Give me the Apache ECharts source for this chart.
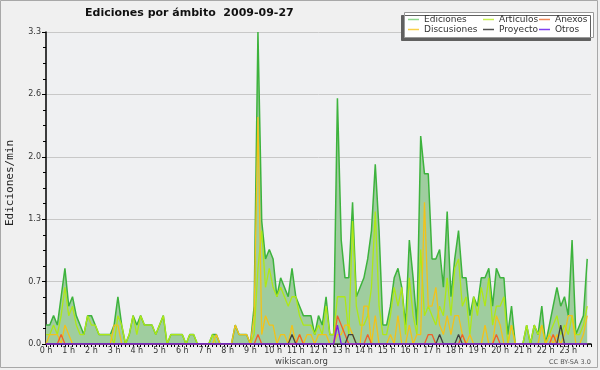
<!DOCTYPE html>
<html>
<head>
<meta charset="utf-8">
<script src="https://cdn.jsdelivr.net/npm/echarts@6/dist/echarts.min.js"></script>
<style>html,body{margin:0;padding:0;background:#f0f0f0;}#c{width:600px;height:370px;}</style>
</head>
<body>
<div id="c"></div>
<script>
// ---- data (10-minute bins, edits per minute) ----
var hourLabels = ['0 h','1 h','2 h','3 h','4 h','5 h','6 h','7 h','8 h','9 h','10 h','11 h','12 h','13 h','14 h','15 h','16 h','17 h','18 h','19 h','20 h','21 h','22 h','23 h'];

var ediciones = [
0.2,0.2,0.3,0.2,0.5,0.8,0.4,0.5,0.3,0.2,
0.1,0.3,0.3,0.2,0.1,0.1,0.1,0.1,0.2,0.5,
0.2,0,0.1,0.3,0.2,0.3,0.2,0.2,0.2,0.1,
0.2,0.3,0,0.1,0.1,0.1,0.1,0,0.1,0.1,
0,0,0,0,0.1,0.1,0,0,0,0,
0.2,0.1,0.1,0.1,0,0.4,3.3,1.3,0.9,1.0,
0.9,0.5,0.7,0.6,0.5,0.8,0.5,0.4,0.3,0.3,
0.3,0.1,0.3,0.2,0.5,0.1,0.1,2.6,1.1,0.7,
0.7,1.5,0.5,0.6,0.7,0.9,1.2,1.9,1.2,0.2,
0.2,0.4,0.7,0.8,0.6,0.2,1.1,0.7,0.2,2.2,
1.8,1.8,0.9,0.9,1.0,0.6,1.4,0.5,0.9,1.2,
0.7,0.7,0.3,0.5,0.4,0.7,0.7,0.8,0.4,0.8,
0.7,0.7,0.1,0.4,0,0,0,0.2,0,0.2,
0.1,0.4,0,0.2,0.4,0.6,0.4,0.5,0.3,1.1,
0.1,0.2,0.3,0.9];

var articulos = [
0.1,0.1,0.2,0.1,0.3,0.6,0.3,0.4,0.2,0.1,
0.1,0.3,0.2,0.2,0.1,0.1,0.1,0.1,0,0.3,
0.2,0,0.1,0.3,0.1,0.3,0.2,0.2,0.2,0.1,
0.2,0.3,0,0.1,0.1,0.1,0.1,0,0.1,0.1,
0,0,0,0,0.1,0,0,0,0,0,
0,0,0,0,0,0.1,0.8,1.2,0.6,0.8,
0.6,0.5,0.6,0.5,0.4,0.5,0.5,0.3,0.2,0.2,
0.2,0.1,0.2,0.1,0.4,0.1,0.1,0.5,0.5,0.5,
0.1,1.3,0.4,0.2,0.2,0.3,0.6,1.4,0.4,0.1,
0.1,0.3,0.6,0.4,0.6,0.1,0.7,0.3,0.1,1.0,
0.3,0.4,0.3,0.2,0.4,0.3,0.7,0.3,0.8,0.9,
0.4,0.5,0.1,0.5,0.3,0.6,0.4,0.7,0.2,0.4,
0.4,0.5,0,0.2,0,0,0,0.2,0,0.2,
0.1,0.2,0,0.1,0.2,0.3,0.1,0.2,0.1,0.3,
0.1,0.1,0.2,0.4];

var discusiones = [
0,0.1,0.1,0.1,0,0.2,0.1,0,0,0,
0,0,0,0,0,0,0,0,0.2,0.2,
0,0,0,0,0,0,0,0,0,0,
0,0,0,0,0,0,0,0,0,0,
0,0,0,0,0,0.1,0,0,0,0,
0.2,0.1,0.1,0.1,0,0.3,2.4,0.1,0.3,0.2,
0.2,0,0.1,0.1,0,0.2,0,0.1,0,0.1,
0.1,0,0.1,0.1,0.1,0,0,0.1,0.1,0.2,
0.2,0.1,0,0,0.4,0.4,0,0.3,0,0,
0,0.1,0,0.3,0,0,0.2,0,0.1,0.1,
1.5,0.4,0.4,0.6,0.2,0.1,0.3,0.1,0.3,0.3,
0.1,0,0.1,0,0,0,0.2,0,0,0.3,
0.2,0,0,0.2,0,0,0,0,0,0,
0,0.2,0,0.1,0,0.1,0,0.1,0.3,0.3,
0,0,0.1,0.3];

var anexos = [
0,0,0,0,0.1,0,0,0,0,0,
0,0,0,0,0,0,0,0,0,0,
0,0,0,0,0,0,0,0,0,0,
0,0,0,0,0,0,0,0,0,0,
0,0,0,0,0,0,0,0,0,0,
0,0,0,0,0,0,0.1,0,0,0,
0,0,0,0,0,0,0,0.1,0,0,
0,0,0,0,0,0,0,0.3,0.2,0.1,
0,0,0,0,0,0.1,0,0,0,0,
0,0,0,0,0,0,0,0,0,0,
0,0.1,0.1,0,0,0,0,0,0,0,
0.1,0,0,0,0,0,0,0,0,0.1,
0,0,0,0,0,0,0,0,0,0,
0,0,0,0,0.1,0,0,0,0,0,
0,0,0,0];

var proyecto = [
0,0,0,0,0,0,0,0,0,0,
0,0,0,0,0,0,0,0,0,0,
0,0,0,0,0,0,0,0,0,0,
0,0,0,0,0,0,0,0,0,0,
0,0,0,0,0,0,0,0,0,0,
0,0,0,0,0,0,0,0,0,0,
0,0,0,0,0,0.1,0,0,0,0,
0,0,0,0,0,0,0,0,0,0,
0.1,0.1,0,0,0,0,0,0,0,0,
0,0,0,0,0,0,0,0,0,0,
0,0,0,0,0.1,0,0,0,0,0.1,
0,0,0,0,0,0,0,0,0,0,
0,0,0,0,0,0,0,0,0,0,
0,0,0,0,0,0,0.2,0,0,0,
0,0,0,0];

var otros = [
0,0,0,0,0,0,0,0,0,0,
0,0,0,0,0,0,0,0,0,0,
0,0,0,0,0,0,0,0,0,0,
0,0,0,0,0,0,0,0,0,0,
0,0,0,0,0,0,0,0,0,0,
0,0,0,0,0,0,0,0,0,0,
0,0,0,0,0,0,0,0,0,0,
0,0,0,0,0,0,0,0.2,0,0,
0,0,0,0,0,0,0,0,0,0,
0,0,0,0,0,0,0,0,0,0,
0,0,0,0,0,0,0,0,0,0,
0,0,0,0,0,0,0,0,0,0,
0,0,0,0,0,0,0,0,0,0,
0,0,0,0,0,0,0,0,0,0,
0,0,0,0];

function pairs(arr){ return arr.map(function(v,i){ return [i, v]; }); }

var FONT = 'DejaVu Sans';
var chart = echarts.init(document.getElementById('c'), null, {renderer:'canvas'});

function leg(name, color, left, top){
  return {
    data:[{name:name, itemStyle:{color:color}}],
    left:left, top:top, padding:0, icon:'rect', itemWidth:11, itemHeight:1.5, itemGap:0,
    selectedMode:false, z:60,
    textStyle:{fontFamily:FONT, fontSize:9, color:'#333', padding:[0,0,0,0]}
  };
}
function line(name, data, color, z){
  return {type:'line', name:name, data:pairs(data), showSymbol:false, symbol:'none',
    lineStyle:{color:color, width:1.3}, itemStyle:{color:color}, z:z, silent:true};
}

var option = {
  animation:false,
  backgroundColor:'#f0f0f0',
  title:{text:'Ediciones por ámbito  2009-09-27', left:85, top:8, padding:0,
    textStyle:{fontFamily:FONT, fontSize:11, fontWeight:'bold', color:'#111'}},
  legend:[
    leg('Ediciones','#8fd88f',408,15),
    leg('Artículos','#c8f050',483,15),
    leg('Anexos','#f08858',539,15),
    leg('Discusiones','#f8d048',408,25),
    leg('Proyecto','#505050',483,25),
    leg('Otros','#8040f0',539,25)
  ],
  grid:{left:46, right:9, top:32, bottom:26, show:true, backgroundColor:'#eff0f2', borderWidth:0},
  xAxis:{type:'value', min:0, max:144, interval:6,
    axisLine:{show:true, lineStyle:{color:'#000', width:1.5}},
    axisTick:{show:true, length:3, lineStyle:{color:'#000'}},
    minorTick:{show:true, splitNumber:6, length:3, lineStyle:{color:'#000'}},
    splitLine:{show:false},
    axisLabel:{margin:3, fontFamily:FONT, fontSize:8, color:'#333',
      formatter:function(v){ var h=Math.round(v/6); return h<hourLabels.length ? hourLabels[h] : ''; }}
  },
  yAxis:{type:'value', min:0, max:3.3, interval:0.66,
    axisLine:{show:true, lineStyle:{color:'#000', width:1.5}},
    axisTick:{show:true, length:4, lineStyle:{color:'#000'}},
    minorTick:{show:true, splitNumber:4, length:3, lineStyle:{color:'#000'}},
    splitLine:{show:true, lineStyle:{color:'#c8c8c8', width:1}},
    axisLabel:{margin:5, fontFamily:FONT, fontSize:8, color:'#333',
      formatter:function(v){ return v.toFixed(1); }}
  },
  graphic:[
    {type:'rect', shape:{x:0.5,y:0.5,width:597,height:367}, style:{fill:null, stroke:'#a8a8a8', lineWidth:1}, z:-1, silent:true},
    {type:'rect', shape:{x:404.5,y:12.5,width:189,height:25}, style:{fill:'#fff', stroke:'#999', lineWidth:1,
      shadowColor:'#606060', shadowOffsetX:-3, shadowOffsetY:3, shadowBlur:0}, z:50, silent:true},
    {type:'text', x:10, y:183, rotation:Math.PI/2, style:{text:'Ediciones/min', font:'11px "DejaVu Sans Mono"', fill:'#222', align:'center', verticalAlign:'middle'}, z:60},
    {type:'text', left:275, top:357, style:{text:'wikiscan.org', font:'8.5px "DejaVu Sans"', fill:'#444'}, z:60},
    {type:'text', left:549, top:359, style:{text:'CC BY-SA 3.0', font:'6.5px "DejaVu Sans"', fill:'#555'}, z:60}
  ],
  series:[
    {type:'line', name:'Ediciones', data:pairs(ediciones), showSymbol:false, symbol:'none',
      lineStyle:{color:'#3db33d', width:1.5}, itemStyle:{color:'#3db33d'},
      areaStyle:{color:'#9fcd9f', opacity:1}, z:2, silent:true},
    line('Artículos', articulos, '#aee817', 3),
    line('Discusiones', discusiones, '#f2c21a', 4),
    line('Anexos', anexos, '#f0602a', 5),
    line('Proyecto', proyecto, '#404040', 6),
    line('Otros', otros, '#7a1ee8', 7)
  ]
};
chart.setOption(option);
</script>
</body>
</html>
